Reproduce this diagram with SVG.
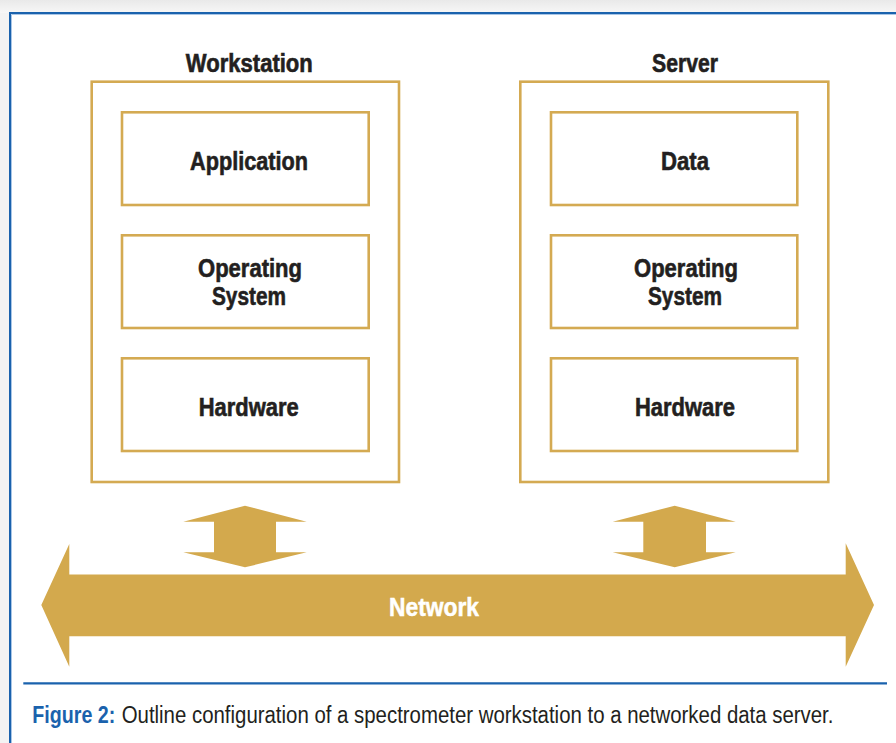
<svg xmlns="http://www.w3.org/2000/svg" width="896" height="743" viewBox="0 0 896 743">
<defs>
<linearGradient id="bg" x1="0" y1="0" x2="0" y2="1">
<stop offset="0" stop-color="#e9e9e9"/><stop offset="1" stop-color="#f7f7f7"/>
</linearGradient>
<style>
.box{fill:none;stroke:#d4aa52;stroke-width:2.6}
.lbl{font-family:"Liberation Sans",Arial,sans-serif;font-weight:bold;font-size:25px;fill:#231f20;stroke:#231f20;stroke-width:0.6;text-anchor:middle}
.gold{fill:#d3a94d}
.cap{font-family:"Liberation Sans",Arial,sans-serif;font-size:23px;fill:#231f20}
</style>
</defs>
<rect x="0" y="0" width="896" height="743" fill="#f3f3f3"/>
<rect x="0" y="0" width="896" height="13" fill="url(#bg)"/>
<rect x="10" y="13" width="900" height="740" fill="#ffffff"/>
<path d="M10 743 V13 H896" fill="none" stroke="#1a62ad" stroke-width="2"/>
<path d="M11.5 743 V14.5 H896" fill="none" stroke="#a9c6e6" stroke-width="1"/>

<g id="workstation">
<rect class="box" x="91.7" y="81.7" width="307.3" height="400.3"/>
<text class="lbl" x="249.3" y="72.3" textLength="127" lengthAdjust="spacingAndGlyphs">Workstation</text>
</g>
<g id="ws-application">
<rect class="box" x="122" y="112.3" width="246.7" height="92.7"/>
<text class="lbl" x="249" y="169.5" textLength="118" lengthAdjust="spacingAndGlyphs">Application</text>
</g>
<g id="ws-os">
<rect class="box" x="122" y="235.3" width="246.7" height="92.7"/>
<text class="lbl" x="250" y="277" textLength="104" lengthAdjust="spacingAndGlyphs">Operating</text>
<text class="lbl" x="249" y="305" textLength="74" lengthAdjust="spacingAndGlyphs">System</text>
</g>
<g id="ws-hardware">
<rect class="box" x="122" y="358.3" width="246.7" height="92.7"/>
<text class="lbl" x="248.7" y="416" textLength="100" lengthAdjust="spacingAndGlyphs">Hardware</text>
</g>

<g id="server">
<rect class="box" x="520.3" y="81.7" width="308" height="400.3"/>
<text class="lbl" x="685" y="72.3" textLength="66" lengthAdjust="spacingAndGlyphs">Server</text>
</g>
<g id="srv-data">
<rect class="box" x="551" y="112.3" width="246.3" height="92.7"/>
<text class="lbl" x="685" y="169.5" textLength="48" lengthAdjust="spacingAndGlyphs">Data</text>
</g>
<g id="srv-os">
<rect class="box" x="551" y="235.3" width="246.3" height="92.7"/>
<text class="lbl" x="686" y="277" textLength="104" lengthAdjust="spacingAndGlyphs">Operating</text>
<text class="lbl" x="685" y="305" textLength="74" lengthAdjust="spacingAndGlyphs">System</text>
</g>
<g id="srv-hardware">
<rect class="box" x="551" y="358.3" width="246.3" height="92.7"/>
<text class="lbl" x="685" y="416" textLength="100" lengthAdjust="spacingAndGlyphs">Hardware</text>
</g>

<g id="connectors">
<polygon class="gold" points="245,505.7 306.7,521.7 276,521.7 276,552.3 306.7,552.3 245,567.3 183.3,552.3 214,552.3 214,521.7 183.3,521.7"/>
<polygon class="gold" points="674.7,505.7 735.7,521.7 706,521.7 706,552.3 735.7,552.3 674.7,567.3 612.7,552.3 643.3,552.3 643.3,521.7 612.7,521.7"/>
</g>

<g id="network">
<polygon class="gold" points="41.3,605 69.3,544 69.3,574.5 845.7,574.5 845.7,543.3 874,605 845.7,666.7 845.7,636.3 69.3,636.3 69.3,666.7"/>
<text x="434" y="615.5" font-family="Liberation Sans,Arial,sans-serif" font-weight="bold" font-size="25" fill="#ffffff" stroke="#ffffff" stroke-width="0.5" text-anchor="middle" textLength="90" lengthAdjust="spacingAndGlyphs">Network</text>
</g>

<line x1="23.3" y1="683.3" x2="887" y2="683.3" stroke="#1a62ad" stroke-width="2.2"/>
<text class="cap" x="32.3" y="723.3" textLength="83" lengthAdjust="spacingAndGlyphs" font-weight="bold" style="fill:#1a62ad">Figure 2:</text>
<g transform="translate(121.7 723.3) scale(0.82 1)">
<text class="cap" x="0" y="0" textLength="868" lengthAdjust="spacingAndGlyphs">Outline configuration of a spectrometer workstation to a networked data server.</text>
</g>
</svg>
